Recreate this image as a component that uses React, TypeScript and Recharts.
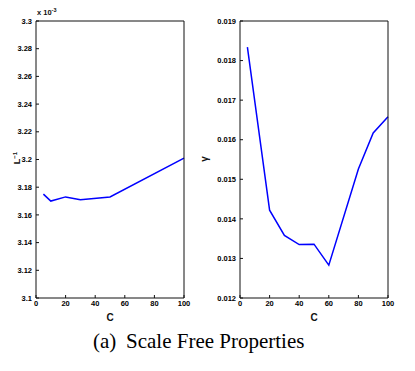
import * as React from 'react';
import { LineChart, Line, XAxis, YAxis } from 'recharts';

// left panel: inverse path length (x 10^-3) vs C
const cLeft = [5, 10, 20, 30, 50, 100];
const invL = [3.175, 3.17, 3.173, 3.171, 3.173, 3.201];
const invLTicks = [3.1, 3.12, 3.14, 3.16, 3.18, 3.2, 3.22, 3.24, 3.26, 3.28, 3.3];

// right panel: gamma vs C
const cRight = [5, 20, 30, 40, 50, 60, 80, 90, 100];
const gamma = [0.01834, 0.01422, 0.01358, 0.01335, 0.01336, 0.01283, 0.01526, 0.01617, 0.01658];
const gammaTicks = [0.012, 0.013, 0.014, 0.015, 0.016, 0.017, 0.018, 0.019];

const cTicks = [0, 20, 40, 60, 80, 100];

const leftData = cLeft.map((c, i) => ({ c, v: invL[i] }));
const rightData = cRight.map((c, i) => ({ c, v: gamma[i] }));

const FONT = '"Liberation Sans", Arial, sans-serif';
const SERIF = '"Liberation Serif", "Times New Roman", serif';
const tickStyle = { fontSize: 7.5, fill: '#000', fontFamily: FONT, fontWeight: 'bold' };
const AXIS = '#111';

interface PanelProps {
  data: { c: number; v: number }[];
  yDomain: [number, number];
  yTicks: number[];
  fmt: (v: number) => string;
  yAxisWidth: number;
  rightMargin: number;
}

function Panel({ data, yDomain, yTicks, fmt, yAxisWidth, rightMargin }: PanelProps) {
  return (
    <LineChart
      width={200}
      height={330}
      data={data}
      margin={{ top: 21, right: rightMargin, bottom: 0, left: 0 }}
    >
      <XAxis
        xAxisId="b"
        dataKey="c"
        type="number"
        domain={[0, 100]}
        ticks={cTicks}
        stroke={AXIS}
        tickSize={-3}
        tickMargin={6}
        tick={tickStyle}
        height={32}
      />
      <XAxis
        xAxisId="t"
        dataKey="c"
        type="number"
        orientation="top"
        mirror
        domain={[0, 100]}
        ticks={cTicks}
        stroke={AXIS}
        tickSize={3}
        tick={false}
      />
      <YAxis
        yAxisId="l"
        type="number"
        domain={yDomain}
        ticks={yTicks}
        tickFormatter={fmt}
        stroke={AXIS}
        tickSize={-3}
        tickMargin={7}
        tick={tickStyle}
        width={yAxisWidth}
        interval={0}
      />
      <YAxis
        yAxisId="r"
        type="number"
        orientation="right"
        mirror
        domain={yDomain}
        ticks={yTicks}
        stroke={AXIS}
        tickSize={3}
        tick={false}
      />
      <Line
        xAxisId="b"
        yAxisId="l"
        dataKey="v"
        stroke="#0000ff"
        strokeWidth={1.5}
        dot={false}
        isAnimationActive={false}
      />
    </LineChart>
  );
}

export default function App() {
  return (
    <div style={{ position: 'absolute', left: 0, top: 0, width: 415, height: 371, background: '#fff' }}>
      <div style={{ position: 'absolute', left: 0, top: 0 }}>
        <Panel
          data={leftData}
          yDomain={[3.1, 3.3]}
          yTicks={invLTicks}
          fmt={(v) => String(Number(v.toFixed(2)))}
          yAxisWidth={36}
          rightMargin={16}
        />
      </div>
      <div style={{ position: 'absolute', left: 200, top: 0 }}>
        <Panel
          data={rightData}
          yDomain={[0.012, 0.019]}
          yTicks={gammaTicks}
          fmt={(v) => v.toFixed(3)}
          yAxisWidth={40}
          rightMargin={12}
        />
      </div>
      <svg
        width={415}
        height={371}
        style={{ position: 'absolute', left: 0, top: 0, pointerEvents: 'none' }}
      >
        {/* exponent note of left panel */}
        <text x={37} y={15} fontSize={7.5} fontWeight="bold" fontFamily={FONT} fill="#111">
          x 10<tspan dy={-3} fontSize={5.5}>-3</tspan>
        </text>
        {/* axis titles */}
        <text
          x={20}
          y={158}
          transform="rotate(-90 20 158)"
          textAnchor="middle"
          fontSize={9}
          fontWeight="bold"
          fontFamily={FONT}
          fill="#111"
        >
          L<tspan dy={-3} fontSize={6}>−1</tspan>
        </text>
        <text
          x={208}
          y={159}
          transform="rotate(-90 208 159)"
          textAnchor="middle"
          fontSize={10}
          fontWeight="bold"
          fontFamily={FONT}
          fill="#111"
        >
          γ
        </text>
        <text x={110} y={321} textAnchor="middle" fontSize={10} fontWeight="bold" fontFamily={FONT} fill="#111">
          C
        </text>
        <text x={314} y={321} textAnchor="middle" fontSize={10} fontWeight="bold" fontFamily={FONT} fill="#111">
          C
        </text>
        {/* caption */}
        <text x={93} y={348} fontSize={21} fontFamily={SERIF} fill="#000">
          (a)
        </text>
        <text x={126} y={348} fontSize={21} fontFamily={SERIF} fill="#000">
          Scale Free Properties
        </text>
      </svg>
    </div>
  );
}
